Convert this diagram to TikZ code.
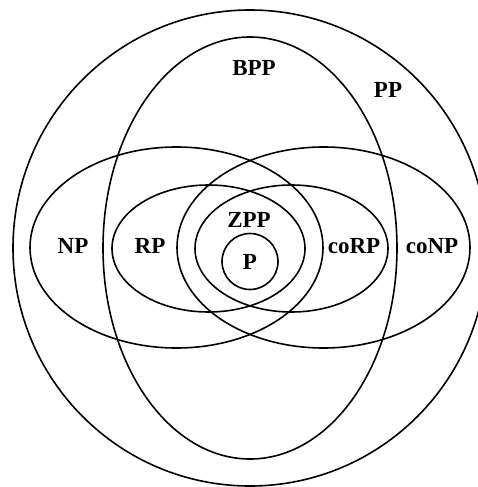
\documentclass[tikz,border=0pt]{standalone}
\usepackage{fontspec}
\setmainfont{Liberation Serif}
\tikzset{
  setline/.style={draw=black, line width=1.6pt},
  setlabel/.style={anchor=base, inner sep=0pt, font=\fontsize{23}{23}\selectfont\bfseries}
}
\begin{document}
\begin{tikzpicture}[x=1pt,y=-1pt]
\useasboundingbox (0,0) rectangle (477,487);
% PP
\draw[setline] (250,248) ellipse [x radius=237, y radius=238];
% BPP
\draw[setline] (250,248) ellipse [x radius=147, y radius=211];
% NP and coNP
\draw[setline] (176.5,247.5) ellipse [x radius=146.5, y radius=100.5];
\draw[setline] (323.5,247.5) ellipse [x radius=146.5, y radius=100.5];
% RP and coRP
\draw[setline] (208.5,248.5) ellipse [x radius=96.5, y radius=63.5];
\draw[setline] (291.5,248.5) ellipse [x radius=96.5, y radius=63.5];
% P
\draw[setline] (250,261.5) circle [radius=28];
% labels
\node[setlabel] (bpp) at (254,75) {BPP};
\node[setlabel] (pp) at (388,97) {PP};
\node[setlabel] (np) at (73,253) {NP};
\node[setlabel] (rp) at (150,253) {RP};
\node[setlabel] (zpp) at (249,227) {ZPP};
\node[setlabel] (p) at (250,269) {P};
\node[setlabel] (corp) at (354,253) {coRP};
\node[setlabel] (conp) at (432,253) {coNP};
\end{tikzpicture}
\end{document}
